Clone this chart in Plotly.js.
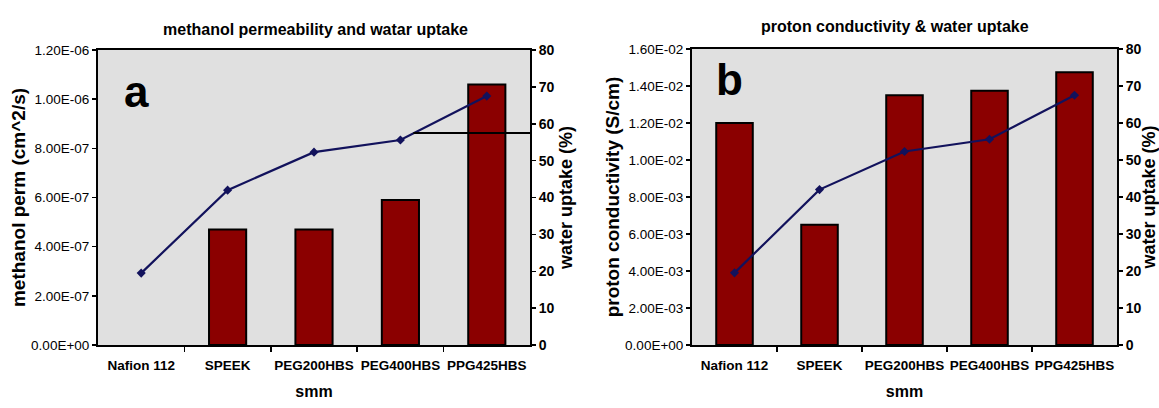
<!DOCTYPE html>
<html>
<head>
<meta charset="utf-8">
<script src="https://cdn.plot.ly/plotly-3.0.1.min.js"></script>
<style>
  html, body { margin: 0; padding: 0; background: #ffffff; }
  #chart { width: 1159px; height: 408px; }
</style>
</head>
<body>
<div id="chart"></div>
<script>
// ---- data ----
const categories = ['Nafion 112', 'SPEEK', 'PEG200HBS', 'PEG400HBS', 'PPG425HBS'];
const methanolPerm = [null, 4.7e-7, 4.7e-7, 5.9e-7, 1.06e-6];          // cm^2/s
const protonCond = [1.20e-2, 6.5e-3, 1.35e-2, 1.375e-2, 1.475e-2];     // S/cm
const waterUptake = [19.5, 42, 52.3, 55.6, 67.5];                        // %
const leaderX = [3.15, 4.5];   // stray horizontal line in panel a (category units)
const leaderY = [57.5, 57.5];  // on water-uptake scale

const leftTicksA = [0, 2e-7, 4e-7, 6e-7, 8e-7, 1e-6, 1.2e-6];
const leftTextA = ['0.00E+00', '2.00E-07', '4.00E-07', '6.00E-07', '8.00E-07', '1.00E-06', '1.20E-06'];
const leftTicksB = [0, 2e-3, 4e-3, 6e-3, 8e-3, 1e-2, 1.2e-2, 1.4e-2, 1.6e-2];
const leftTextB = ['0.00E+00', '2.00E-03', '4.00E-03', '6.00E-03', '8.00E-03', '1.00E-02', '1.20E-02', '1.40E-02', '1.60E-02'];

const titleA = 'methanol permeability and watar uptake';
const titleB = 'proton conductivity & water uptake';
const yTitleA = 'methanol perm (cm^2/s)';
const yTitleB = 'proton conductivity (S/cm)';
const y2Title = 'water uptake (%)';
const xTitle = 'smm';

// ---- styling ----
const FONT = 'Liberation Sans, Arial, sans-serif';
const BAR = '#8b0000';
const LINE = '#12125c';
const BG = '#e0e0e0';
const idx = categories.map((c, i) => i);

function barTrace(vals, xa, ya) {
  return {
    type: 'bar', x: idx, y: vals, xaxis: xa, yaxis: ya,
    width: 0.43,
    marker: { color: BAR, line: { color: '#000000', width: 2 } },
    hoverinfo: 'skip', showlegend: false
  };
}
function lineTrace(xa, ya) {
  return {
    type: 'scatter', mode: 'lines+markers', x: idx, y: waterUptake, xaxis: xa, yaxis: ya,
    line: { color: LINE, width: 2.2 },
    marker: { color: LINE, size: 7, symbol: 'diamond' },
    showlegend: false
  };
}

const traces = [
  barTrace(methanolPerm, 'x', 'y'),
  lineTrace('x', 'y2'),
  { type: 'scatter', mode: 'lines', x: leaderX, y: leaderY, xaxis: 'x', yaxis: 'y2',
    line: { color: '#000000', width: 2 }, showlegend: false },
  barTrace(protonCond, 'x2', 'y3'),
  lineTrace('x2', 'y4')
];

const H = 408, W = 1159;
const dyA = [(H - 345) / H, (H - 50) / H];
const dyB = [(H - 345) / H, (H - 49) / H];
const dxA = [98 / W, 530 / W];
const dxB = [692 / W, 1117 / W];

function xAxis(domain, anchor) {
  return {
    domain: domain, anchor: anchor, range: [-0.5, categories.length - 0.5],
    tickvals: idx, ticktext: categories, ticks: '', ticklabelstandoff: 7,
    tickfont: { family: FONT, size: 13.5, color: '#000', weight: 'bold' },
    showline: true, linecolor: '#000', linewidth: 2, mirror: true,
    showgrid: false, zeroline: false, fixedrange: true, automargin: false,
    minor: { tickvals: idx.slice(1).map(i => i - 0.5), ticks: 'outside', ticklen: 5, tickcolor: '#000', tickwidth: 1.5, showgrid: false },
    title: { text: xTitle, font: { family: FONT, size: 16, color: '#000', weight: 'bold' }, standoff: 14 }
  };
}
function yLeft(domain, anchor, range, tv, tt, title, size) {
  return {
    domain: domain, anchor: anchor, range: range, tickvals: tv, ticktext: tt,
    ticks: 'outside', ticklen: 4, tickcolor: '#000', tickwidth: 1.5,
    tickfont: { family: FONT, size: 13.5, color: '#000' },
    showline: true, linecolor: '#000', linewidth: 2,
    showgrid: false, zeroline: false, fixedrange: true, automargin: false,
    title: { text: title, font: { family: FONT, size: size, color: '#000', weight: 'bold' }, standoff: 0 }
  };
}
function yRight(overlay, anchor) {
  return {
    overlaying: overlay, anchor: anchor, side: 'right', range: [0, 80], dtick: 10,
    ticks: 'outside', ticklen: 4, tickcolor: '#000', tickwidth: 1.5,
    tickfont: { family: FONT, size: 14, color: '#000', weight: 'bold' },
    showline: true, linecolor: '#000', linewidth: 2,
    showgrid: false, zeroline: false, fixedrange: true, automargin: false,
    title: { text: y2Title, font: { family: FONT, size: 18, color: '#000', weight: 'bold' }, standoff: 6 }
  };
}

const layout = {
  width: W, height: H,
  margin: { l: 0, r: 0, t: 0, b: 0 },
  paper_bgcolor: '#ffffff', plot_bgcolor: BG,
  showlegend: false,
  xaxis: xAxis(dxA, 'y'),
  yaxis: yLeft(dyA, 'x', [0, 1.2e-6], leftTicksA, leftTextA, yTitleA, 19),
  yaxis2: yRight('y', 'x'),
  xaxis2: xAxis(dxB, 'y3'),
  yaxis3: yLeft(dyB, 'x2', [0, 1.6e-2], leftTicksB, leftTextB, yTitleB, 19),
  yaxis4: yRight('y3', 'x2'),
  annotations: [
    { text: titleA, xref: 'paper', yref: 'paper', x: 315 / W, y: (H - 30) / H, xanchor: 'center', yanchor: 'middle',
      showarrow: false, font: { family: FONT, size: 16, color: '#000', weight: 'bold' } },
    { text: titleB, xref: 'paper', yref: 'paper', x: 895 / W, y: (H - 26) / H, xanchor: 'center', yanchor: 'middle',
      showarrow: false, font: { family: FONT, size: 16, color: '#000', weight: 'bold' } },
    { text: 'a', xref: 'paper', yref: 'paper', x: 136 / W, y: (H - 92) / H, xanchor: 'center', yanchor: 'middle',
      showarrow: false, font: { family: FONT, size: 44, color: '#000', weight: 'bold' } },
    { text: 'b', xref: 'paper', yref: 'paper', x: 729 / W, y: (H - 80) / H, xanchor: 'center', yanchor: 'middle',
      showarrow: false, font: { family: FONT, size: 44, color: '#000', weight: 'bold' } }
  ]
};

Plotly.newPlot('chart', traces, layout, { staticPlot: true, displayModeBar: false });
</script>
</body>
</html>
